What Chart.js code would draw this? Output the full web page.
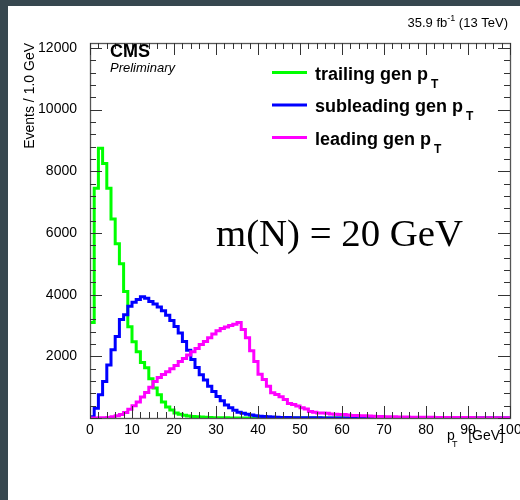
<!DOCTYPE html>
<html><head><meta charset="utf-8">
<script src="https://cdn.jsdelivr.net/npm/chart.js@4.4.1/dist/chart.umd.min.js"></script>
<style>html,body{margin:0;padding:0;background:#fff;}#wrap{width:520px;height:500px;position:relative}</style>
</head><body><div id="wrap"><canvas id="c" width="520" height="500"></canvas></div>
<script>
// 1 GeV bins from 0 to 100 GeV (low edges + final upper edge)
const binEdges = Array.from({length: 101}, (_, i) => i);

const trailing = [
  3100, 7450, 8750, 8250, 7450, 6450, 5650, 5000, 4100, 2960,
  2470, 2150, 1800, 1630, 1270, 975, 750, 520, 360, 260,
  160, 120, 90, 68, 52, 40, 30, 22, 16, 12,
  9, 7, 5, 4, 3, 2, 2, 1, 1, 1,
  0,0,0,0,0,0,0,0,0,0, 0,0,0,0,0,0,0,0,0,0,
  0,0,0,0,0,0,0,0,0,0, 0,0,0,0,0,0,0,0,0,0,
  0,0,0,0,0,0,0,0,0,0, 0,0,0,0,0,0,0,0,0,0
];
const subleading = [
  40, 320, 750, 1180, 1720, 2210, 2640, 3190, 3350, 3620,
  3750, 3840, 3930, 3880, 3780, 3700, 3600, 3480, 3330, 3160,
  2970, 2760, 2480, 2200, 1900, 1640, 1400, 1230, 1030, 860,
  700, 560, 420, 330, 250, 190, 150, 120, 95, 75,
  60, 48, 38, 30, 25, 20, 17, 14, 12, 10,
  8, 7, 6, 5, 5, 4, 4, 3, 3, 2,
  2, 2, 1, 1, 1, 1, 1, 0, 0, 0,
  0,0,0,0,0,0,0,0,0,0, 0,0,0,0,0,0,0,0,0,0, 0,0,0,0,0,0,0,0,0,0
];
const leading = [
  0, 0, 5, 10, 20, 40, 70, 110, 180, 280,
  400, 520, 680, 830, 1000, 1180, 1310, 1410, 1500, 1600,
  1700, 1830, 1930, 2040, 2150, 2250, 2380, 2480, 2600, 2720,
  2830, 2900, 2950, 3000, 3040, 3100, 2870, 2600, 2180, 1830,
  1420, 1250, 1030, 820, 760, 690, 600, 470, 440, 390,
  330, 290, 210, 190, 165, 160, 150, 130, 120, 115,
  110, 100, 85, 80, 75, 70, 65, 60, 50, 45,
  42, 40, 38, 35, 32, 30, 28, 26, 25, 24,
  22, 21, 20, 19, 18, 17, 16, 15, 14, 14,
  13, 12, 12, 11, 11, 10, 10, 9, 9, 8
];
const seriesNames = ['trailing gen p', 'subleading gen p', 'leading gen p'];
const seriesColors = ['#00ff00', '#0000ff', '#ff00ff'];
const xTickLabels = [0, 10, 20, 30, 40, 50, 60, 70, 80, 90, 100];
const yTickLabels = [2000, 4000, 6000, 8000, 10000, 12000];
const xTickStep = 10, xMinorStep = 2;
const yTickStep = 2000, yMinorStep = 400;
const xMin = 0, xMax = 100, yMin = 0, yMax = 12160;

function toSteps(vals) {
  const pts = vals.map((v, i) => ({x: binEdges[i], y: v}));
  pts.push({x: binEdges[vals.length], y: vals[vals.length - 1]});
  return pts;
}

const FONT = '"Liberation Sans", Arial, Helvetica, sans-serif';

const rootPlugin = {
  id: 'rootStyle',
  beforeDraw(chart) {
    const ctx = chart.ctx;
    ctx.save();
    ctx.fillStyle = '#ffffff';
    ctx.fillRect(0, 0, chart.width, chart.height);
    ctx.fillStyle = '#37474f';
    ctx.fillRect(0, 0, chart.width, 6);
    ctx.fillRect(0, 0, 8, chart.height);
    ctx.restore();
  },
  afterDraw(chart) {
    const ctx = chart.ctx, ca = chart.chartArea;
    const xs = chart.scales.x, ys = chart.scales.y;
    ctx.save();
    // frame
    ctx.strokeStyle = '#555';
    ctx.lineWidth = 1.3;
    ctx.strokeRect(Math.round(ca.left) + 0.5, Math.round(ca.top) + 0.5,
      Math.round(ca.right - ca.left), Math.round(ca.bottom - ca.top));
    // ticks
    ctx.strokeStyle = '#333';
    ctx.lineWidth = 1;
    ctx.beginPath();
    for (let v = xMin; v <= xMax + 1e-9; v += xMinorStep) {
      const px = Math.round(xs.getPixelForValue(v)) + 0.5;
      const len = (v % xTickStep === 0) ? 12 : 6;
      ctx.moveTo(px, ca.bottom); ctx.lineTo(px, ca.bottom - len);
      ctx.moveTo(px, ca.top); ctx.lineTo(px, ca.top + len);
    }
    for (let v = yMin; v <= yMax + 1e-9; v += yMinorStep) {
      const py = Math.round(ys.getPixelForValue(v)) + 0.5;
      const len = (v % yTickStep === 0) ? 12 : 6;
      ctx.moveTo(ca.left, py); ctx.lineTo(ca.left + len, py);
      ctx.moveTo(ca.right, py); ctx.lineTo(ca.right - len, py);
    }
    ctx.stroke();

    ctx.fillStyle = '#000';
    ctx.textBaseline = 'alphabetic';
    ctx.textAlign = 'left';
    // CMS Preliminary
    ctx.font = 'bold 18px ' + FONT;
    ctx.fillText('CMS', 110, 57);
    ctx.font = 'italic 13px ' + FONT;
    ctx.fillText('Preliminary', 110, 71.5);

    // lumi label
    const p1 = '35.9 fb', sup = '-1', p2 = ' (13 TeV)';
    ctx.font = '13px ' + FONT; const w1 = ctx.measureText(p1).width, w3 = ctx.measureText(p2).width;
    ctx.font = '9px ' + FONT; const w2 = ctx.measureText(sup).width;
    let lx = 508 - (w1 + w2 + w3);
    ctx.font = '13px ' + FONT; ctx.fillText(p1, lx, 27);
    ctx.font = '9px ' + FONT; ctx.fillText(sup, lx + w1, 21);
    ctx.font = '13px ' + FONT; ctx.fillText(p2, lx + w1 + w2, 27);

    // legend
    const rows = [72.5, 105, 137.5];
    for (let i = 0; i < 3; i++) {
      const y = rows[i];
      ctx.strokeStyle = seriesColors[i];
      ctx.lineWidth = 3;
      ctx.beginPath(); ctx.moveTo(272, y); ctx.lineTo(307, y); ctx.stroke();
      ctx.font = 'bold 18px ' + FONT;
      ctx.fillText(seriesNames[i], 315, y + 7);
      const w = ctx.measureText(seriesNames[i]).width;
      ctx.font = 'bold 12px ' + FONT;
      ctx.fillText('T', 315 + w + 3, y + 15);
    }

    // mass label
    ctx.font = '38px "Liberation Serif", "DejaVu Serif", serif';
    const mt = 'm(N) = 20 GeV';
    const mw = ctx.measureText(mt).width;
    const fs = 38 * 247 / mw;
    ctx.font = fs.toFixed(1) + 'px "Liberation Serif", "DejaVu Serif", serif';
    ctx.fillText(mt, 216, 246);

    // x axis title
    ctx.font = '14px ' + FONT;
    ctx.textAlign = 'right';
    ctx.fillText('[GeV]', 504, 440);
    ctx.textAlign = 'left';
    ctx.fillText('p', 447, 440);
    ctx.font = '9px ' + FONT;
    ctx.fillText('T', 452, 447);
    ctx.restore();
  }
};

const ds = [
  {label: 'trailing gen pT', data: toSteps(trailing), borderColor: seriesColors[0], order: 3},
  {label: 'subleading gen pT', data: toSteps(subleading), borderColor: seriesColors[1], order: 2},
  {label: 'leading gen pT', data: toSteps(leading), borderColor: seriesColors[2], order: 1}
].map(d => Object.assign(d, {borderWidth: 3, pointRadius: 0, stepped: true, fill: false, tension: 0}));

new Chart(document.getElementById('c'), {
  type: 'line',
  data: {datasets: ds},
  plugins: [rootPlugin],
  options: {
    responsive: false, animation: false, devicePixelRatio: 1,
    layout: {padding: {left: 8, top: 43, right: 10, bottom: 0}},
    plugins: {legend: {display: false}, tooltip: {enabled: false}},
    scales: {
      x: {
        type: 'linear', min: xMin, max: xMax,
        ticks: {autoSkip: false, maxRotation: 0, padding: 4, color: '#000',
          font: {family: FONT, size: 14}, callback: v => String(v)},
        afterBuildTicks(s) { s.ticks = xTickLabels.map(v => ({value: v})); },
        grid: {display: false, drawTicks: false}, border: {display: false},
        afterFit(s) { s.height = 82; s.paddingLeft = 0; s.paddingRight = 0; }
      },
      y: {
        type: 'linear', min: yMin, max: yMax,
        ticks: {autoSkip: false, padding: 13, color: '#000',
          font: {family: FONT, size: 14}, callback: v => String(v)},
        afterBuildTicks(s) { s.ticks = yTickLabels.map(v => ({value: v})); },
        grid: {display: false, drawTicks: false}, border: {display: false},
        title: {display: true, text: 'Events / 1.0 GeV', align: 'end', color: '#000',
          font: {family: FONT, size: 14}, padding: {top: 14, bottom: 0}},
        afterFit(s) { s.width = 82; s.paddingTop = 0; s.paddingBottom = 0; }
      }
    }
  }
});
</script></body></html>
